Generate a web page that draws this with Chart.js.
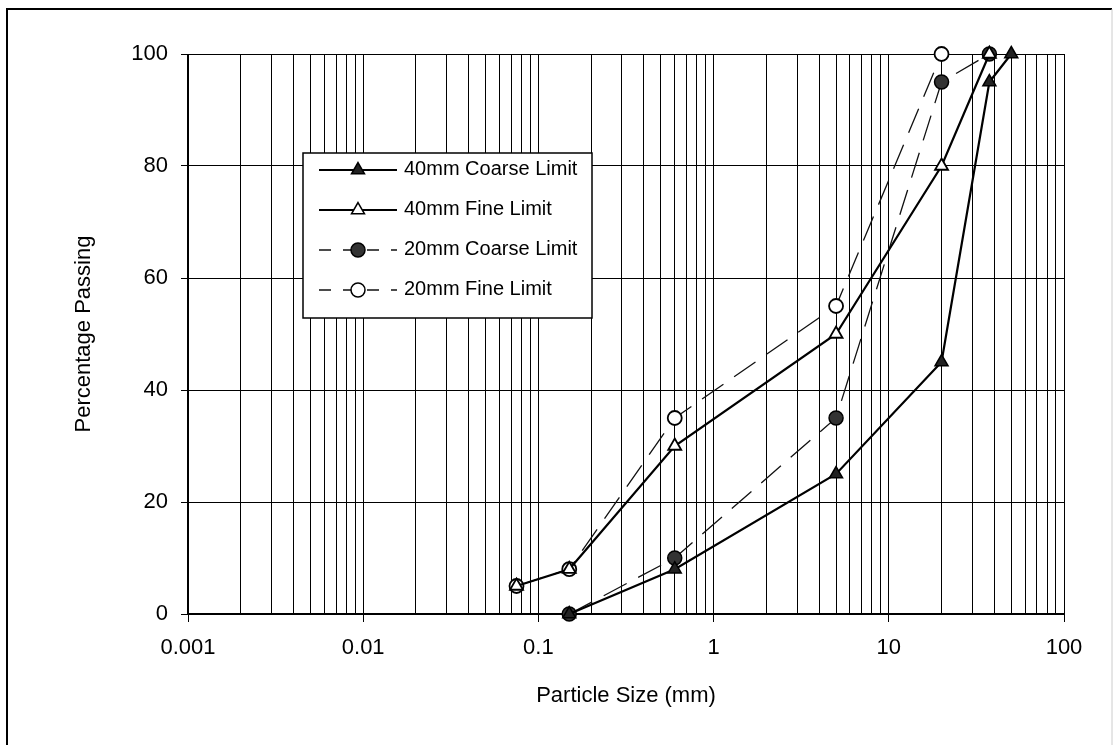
<!DOCTYPE html>
<html>
<head>
<meta charset="utf-8">
<script src="https://cdn.jsdelivr.net/npm/chart.js@4.4.0/dist/chart.umd.min.js"></script>
<style>
  body { margin: 0; background: #fff; }
  canvas { display: block; }
</style>
</head>
<body>
<canvas id="gradingChart" width="1113" height="745"></canvas>
<script>
// grading limits (sieve size in mm, % passing)
const coarse40Sizes = [0.15, 0.6, 5, 20, 37.5, 50];
const coarse40Pass = [0, 8, 25, 45, 95, 100];
const fine40Sizes = [0.075, 0.15, 0.6, 5, 20, 37.5];
const fine40Pass = [5, 8, 30, 50, 80, 100];
const coarse20Sizes = [0.15, 0.6, 5, 20, 37.5];
const coarse20Pass = [0, 10, 35, 95, 100];
const fine20Sizes = [0.075, 0.15, 0.6, 5, 20];
const fine20Pass = [5, 8, 35, 55, 100];

const xTickLabels = ['0.001', '0.01', '0.1', '1', '10', '100'];
const yTickLabels = [0, 20, 40, 60, 80, 100];

function toPoints(xs, ys) {
  return xs.map((x, i) => ({ x: x, y: ys[i] }));
}

const FONT = 'Arial, "Liberation Sans", sans-serif';

// legend drawn inside the plot like the original
const boxLegend = {
  id: 'boxLegend',
  afterDraw(chart) {
    const ctx = chart.ctx;
    const left = 303, top = 153, w = 289, h = 165;
    ctx.save();
    ctx.fillStyle = '#fff';
    ctx.fillRect(left, top, w, h);
    ctx.strokeStyle = '#000';
    ctx.lineWidth = 1.5;
    ctx.strokeRect(left, top, w, h);
    chart.data.datasets.forEach((ds, i) => {
      const y = 170 + i * 40;
      ctx.strokeStyle = ds.borderColor;
      ctx.lineWidth = ds.borderWidth;
      ctx.setLineDash(ds.borderDash ? [12, 12] : []);
      ctx.beginPath();
      ctx.moveTo(319, y);
      ctx.lineTo(397, y);
      ctx.stroke();
      ctx.setLineDash([]);
      ctx.fillStyle = ds.pointBackgroundColor;
      ctx.strokeStyle = '#000';
      ctx.lineWidth = 1.5;
      Chart.helpers.drawPoint(ctx, {
        pointStyle: ds.pointStyle, radius: ds.pointRadius, borderWidth: 1.5
      }, 358, y);
      ctx.fillStyle = '#000';
      ctx.font = '20px ' + FONT;
      ctx.textBaseline = 'middle';
      ctx.fillText(ds.label, 404, y - 1);
    });
    ctx.restore();
  }
};

const outerFrame = {
  id: 'outerFrame',
  beforeDraw(chart) {
    const ctx = chart.ctx;
    ctx.save();
    ctx.fillStyle = '#fff';
    ctx.fillRect(0, 0, chart.width, chart.height);
    ctx.strokeStyle = '#000';
    ctx.lineWidth = 2;
    ctx.beginPath();
    ctx.moveTo(7, 760);
    ctx.lineTo(7, 9);
    ctx.lineTo(1112, 9);
    ctx.stroke();
    ctx.strokeStyle = '#ccc';
    ctx.lineWidth = 1;
    ctx.beginPath();
    ctx.moveTo(1112, 9);
    ctx.lineTo(1112, 745);
    ctx.stroke();
    ctx.restore();
  },
  beforeDatasetsDraw(chart) {
    // heavier left and bottom axis lines
    const a = chart.chartArea;
    const ctx = chart.ctx;
    ctx.save();
    ctx.strokeStyle = '#000';
    ctx.lineWidth = 2;
    ctx.beginPath();
    ctx.moveTo(a.left, a.top);
    ctx.lineTo(a.left, a.bottom);
    ctx.lineTo(a.right, a.bottom);
    ctx.stroke();
    ctx.restore();
  }
};

const isDecade = v => Math.abs(Math.log10(v) - Math.round(Math.log10(v))) < 1e-9;

new Chart(document.getElementById('gradingChart'), {
  type: 'line',
  data: {
    datasets: [
      {
        label: '40mm Coarse Limit',
        data: toPoints(coarse40Sizes, coarse40Pass),
        borderColor: '#000', borderWidth: 2.2,
        pointStyle: 'triangle', pointRadius: 7.5,
        pointBackgroundColor: '#222', pointBorderColor: '#000', pointBorderWidth: 1.5
      },
      {
        label: '40mm Fine Limit',
        data: toPoints(fine40Sizes, fine40Pass),
        borderColor: '#000', borderWidth: 2.2,
        pointStyle: 'triangle', pointRadius: 7.5,
        pointBackgroundColor: '#fff', pointBorderColor: '#000', pointBorderWidth: 1.8
      },
      {
        label: '20mm Coarse Limit',
        data: toPoints(coarse20Sizes, coarse20Pass),
        borderColor: '#111', borderWidth: 1.3, borderDash: [26, 13],
        pointStyle: 'circle', pointRadius: 7,
        pointBackgroundColor: '#333', pointBorderColor: '#000', pointBorderWidth: 1.5
      },
      {
        label: '20mm Fine Limit',
        data: toPoints(fine20Sizes, fine20Pass),
        borderColor: '#111', borderWidth: 1.3, borderDash: [26, 13],
        pointStyle: 'circle', pointRadius: 7,
        pointBackgroundColor: '#fff', pointBorderColor: '#000', pointBorderWidth: 1.8
      }
    ]
  },
  options: {
    responsive: false,
    animation: false,
    clip: false,
    layout: { padding: { top: 54, right: 49, left: 0, bottom: 0 } },
    plugins: {
      legend: { display: false },
      tooltip: { enabled: false }
    },
    scales: {
      x: {
        type: 'logarithmic',
        min: Number(xTickLabels[0]),
        max: Number(xTickLabels[xTickLabels.length - 1]),
        afterBuildTicks(scale) {
          const ticks = [];
          for (let k = 0; k < xTickLabels.length - 1; k++) {
            const base = Number(xTickLabels[k]);
            for (let m = 1; m <= 9; m++) ticks.push({ value: base * m });
          }
          ticks.push({ value: Number(xTickLabels[xTickLabels.length - 1]) });
          scale.ticks = ticks;
        },
        afterFit(scale) { scale.height = 131; },
        grid: {
          color: '#000',
          lineWidth: 1,
          tickLength: 8,
          tickColor: c => (c.tick && isDecade(c.tick.value)) ? '#000' : 'rgba(0,0,0,0)'
        },
        border: { display: false },
        ticks: {
          autoSkip: false,
          maxRotation: 0,
          padding: 13,
          color: '#000',
          font: { family: FONT, size: 22 },
          callback: v => {
            const i = xTickLabels.findIndex(t => Math.abs(Number(t) - v) / v < 1e-9);
            return i >= 0 ? xTickLabels[i] : '';
          }
        },
        title: {
          display: true,
          text: 'Particle Size (mm)',
          color: '#000',
          font: { family: FONT, size: 22 },
          padding: { top: 0, bottom: 36 }
        }
      },
      y: {
        min: yTickLabels[0],
        max: yTickLabels[yTickLabels.length - 1],
        afterBuildTicks(scale) {
          scale.ticks = yTickLabels.map(v => ({ value: v }));
        },
        afterFit(scale) { scale.width = 188; },
        grid: { color: '#000', lineWidth: 1, tickLength: 7, tickColor: '#000' },
        border: { display: false },
        ticks: {
          padding: 13,
          color: '#000',
          font: { family: FONT, size: 22 }
        },
        title: {
          display: true,
          text: 'Percentage Passing',
          color: '#000',
          font: { family: FONT, size: 22 },
          padding: { top: 71, bottom: 0 }
        }
      }
    }
  },
  plugins: [outerFrame, boxLegend]
});
</script>
</body>
</html>
